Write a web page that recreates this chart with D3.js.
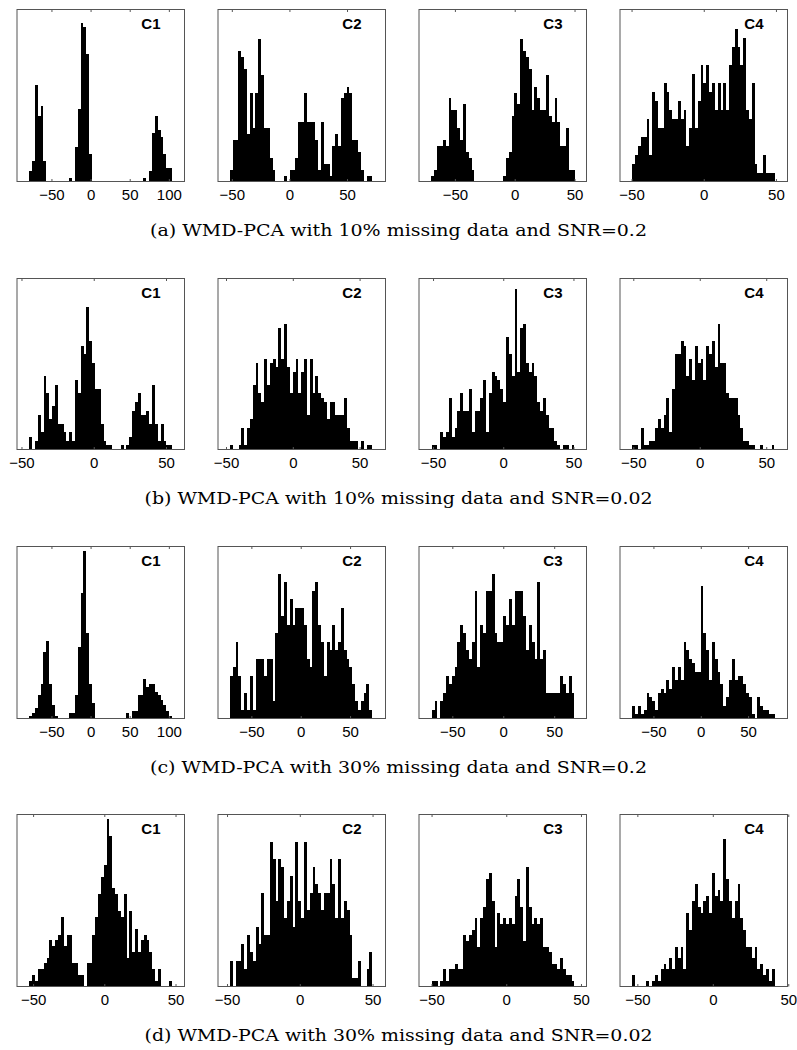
<!DOCTYPE html>
<html><head><meta charset="utf-8">
<script src="https://cdn.jsdelivr.net/npm/d3@7"></script>
<style>body{margin:0;background:#fff}svg{display:block}</style>
</head><body>
<svg id="chart" width="797" height="1050"></svg>
<script>
// ---------------- data ----------------
const panelNames = ["C1", "C2", "C3", "C4"];
const captions = [
  "(a) WMD-PCA with 10% missing data and SNR=0.2",
  "(b) WMD-PCA with 10% missing data and SNR=0.02",
  "(c) WMD-PCA with 30% missing data and SNR=0.2",
  "(d) WMD-PCA with 30% missing data and SNR=0.02"
];

// histogram counts
const countsA1 = [3,6,28,19,22,6,0,0,0,0,0,0,0,0,1,0,10,21,46,45,37,8,0,0,0,0,0,0,0,0,0,0,0,0,0,0,0,0,0,0,1,0,3,14,19,15,13,8,4,4];
const countsA2 = [2,7,7,22,21,19,8,15,9,15,24,18,9,9,4,2,0,0,0,1,0,2,2,4,10,10,15,10,10,10,7,2,10,3,3,1,6,8,6,14,15,16,15,7,7,5,2,0,1,1];
const countsA3 = [1,2,6,6,7,6,14,12,12,9,7,13,5,4,2,0,0,0,0,0,0,0,0,0,0,1,4,5,11,15,13,24,22,21,19,12,16,14,12,12,18,11,10,14,10,6,6,9,2,2];
const countsA4 = [2,3,4,5,5,7,3,10,9,6,6,11,10,8,7,7,9,7,8,4,6,12,6,9,13,11,13,10,11,8,11,8,11,8,13,15,17,15,13,16,8,7,11,2,1,1,3,1,1,1];

const countsB1 = [3,0,2,8,4,17,13,7,10,15,6,6,4,2,4,2,16,13,24,22,33,25,20,14,14,6,2,1,1,0,0,0,1,0,1,3,9,11,13,8,8,9,6,15,6,2,6,2,1,1];
const countsB2 = [1,0,0,1,5,1,5,7,15,20,13,11,21,15,20,21,19,28,21,29,19,13,18,21,13,18,21,8,21,13,17,13,12,11,7,11,11,8,8,8,12,5,2,2,2,0,2,0,1,1];
const countsB3 = [1,1,0,4,3,4,12,3,5,9,13,9,9,14,4,9,9,12,16,4,13,18,17,16,14,11,26,22,17,37,18,28,29,20,18,20,17,11,9,12,8,5,5,2,1,0,1,1,0,1];
const countsB4 = [1,1,0,5,1,1,2,2,5,7,5,8,12,4,14,22,22,25,24,17,21,16,24,20,21,16,24,22,25,19,29,20,20,13,12,12,12,8,5,2,2,1,1,0,0,1,0,0,0,1];

const countsC1 = [1,2,4,9,13,25,29,13,5,1,0,0,0,0,2,2,9,27,47,63,32,13,6,0,0,0,0,0,0,0,0,0,0,0,2,0,3,3,9,9,15,12,13,13,10,9,7,5,3,1];
const countsC2 = [5,6,9,5,1,3,1,5,1,7,7,7,5,7,7,2,10,17,12,16,11,14,11,13,13,13,11,7,6,15,16,11,9,5,9,8,11,8,9,13,8,7,6,4,2,1,2,3,4,1];
const countsC3 = [1,2,0,2,3,5,4,5,6,9,11,10,8,7,9,15,6,11,10,15,15,17,10,9,9,12,11,14,11,15,15,15,12,8,11,9,7,16,7,8,3,3,3,3,3,5,4,3,5,3];
const countsC4 = [3,1,3,1,2,6,5,4,2,6,7,6,9,7,12,9,12,9,18,16,14,13,11,11,31,20,16,9,18,14,11,8,3,5,9,14,9,10,10,8,6,5,1,0,5,3,2,2,1,1];

const countsD1 = [1,2,1,3,3,4,5,8,7,8,9,12,7,9,9,4,4,2,2,0,4,4,9,12,16,19,21,29,26,17,16,13,12,16,5,13,6,10,6,8,9,8,6,3,1,3,0,0,0,1];
const countsD2 = [3,0,3,3,5,2,6,4,3,7,5,11,6,6,17,15,10,15,14,8,10,13,7,17,10,8,17,9,11,14,12,11,9,11,11,15,12,8,15,8,10,9,6,1,1,3,0,0,2,4];
const countsD3 = [1,1,0,1,3,1,3,3,4,3,3,9,8,9,10,12,7,12,14,19,20,15,7,13,11,12,11,12,11,16,19,14,8,21,14,11,12,11,12,7,7,6,4,4,3,5,3,2,2,1];
const countsD4 = [2,0,0,0,0,1,0,1,2,1,3,4,3,5,3,7,5,7,3,13,10,15,18,14,13,15,16,13,20,16,17,15,26,19,15,12,15,18,12,10,7,7,5,7,3,4,2,3,1,3];

const panelCounts = [
  countsA1, countsA2, countsA3, countsA4,
  countsB1, countsB2, countsB3, countsB4,
  countsC1, countsC2, countsC3, countsC4,
  countsD1, countsD2, countsD3, countsD4
];
// data range covered by the bins [min, max]
const binExtents = [
  [-78.5, 104], [-51.7, 71.9], [-69.6, 50], [-49.4, 49],
  [-44.6, 54.3], [-47, 59.6], [-50.9, 50.7], [-50.7, 56.2],
  [-78.5, 104], [-71.7, 72.4], [-70.2, 69.9], [-72.3, 77.9],
  [-52.6, 47.7], [-47.9, 49.8], [-49.8, 45.6], [-53.4, 40.9]
];
// x-axis limits
const xDomains = [
  [-94, 120], [-62, 83.4], [-80, 60], [-58, 58],
  [-53.1, 62.8], [-56, 69.4], [-60, 59.3], [-60, 66],
  [-94, 120], [-83.8, 85.9], [-82.7, 81.7], [-85.3, 91.6],
  [-61.3, 56.3], [-56.2, 58.9], [-58.4, 53.7], [-61.5, 49.5]
];
// y-axis upper limits (counts)
const yMaxes = [
  50, 29, 29, 19.2,
  39.5, 39.5, 39.5, 39.5,
  64.5, 20.2, 20.2, 40.3,
  29.8, 20.2, 30.3, 30.3
];
const ticks3 = [-50, 0, 50];
const ticks4 = [-50, 0, 50, 100];
const tickValues = [
  ticks4, ticks3, ticks3, ticks3,
  ticks3, ticks3, ticks3, ticks3,
  ticks4, ticks3, ticks3, ticks3,
  ticks3, ticks3, ticks3, ticks3
];

// ---------------- layout ----------------
const colLeft = [17, 218, 419, 620];
const panelW = 167.5;
const rowTop = [9.5, 278.5, 546.5, 814.5];
const rowBottom = [181.5, 449.5, 718.5, 986.5];
const boxColor = "#555";
const fmt = d => (d < 0 ? "\u2212" + Math.abs(d) : String(d));

const svg = d3.select("#chart");

panelCounts.forEach((counts, p) => {
  const r = Math.floor(p / 4), c = p % 4;
  const left = colLeft[c], right = left + panelW;
  const top = rowTop[r], bottom = rowBottom[r];
  const x = d3.scaleLinear().domain(xDomains[p]).range([left, right]);
  const y = d3.scaleLinear().domain([0, yMaxes[p]]).range([bottom, top]);
  const [lo, hi] = binExtents[p];
  const bw = (hi - lo) / counts.length;
  const x0 = i => Math.round(x(lo + i * bw));

  const g = svg.append("g");
  g.selectAll("rect.bar").data(counts).join("rect")
    .attr("class", "bar")
    .attr("x", (d, i) => x0(i))
    .attr("width", (d, i) => x0(i + 1) - x0(i))
    .attr("y", d => Math.round(y(d)))
    .attr("height", d => Math.round(y(0)) - Math.round(y(d)))
    .attr("shape-rendering", "crispEdges")
    .attr("fill", "#000");

  // bottom axis (ticks pointing inward)
  const axB = g.append("g").attr("transform", `translate(0,${bottom})`)
    .call(d3.axisBottom(x).tickValues(tickValues[p]).tickFormat(fmt)
      .tickSizeInner(-2.5).tickSizeOuter(0).tickPadding(8));
  axB.select(".domain").remove();
  axB.selectAll("line").attr("stroke", boxColor);
  axB.selectAll("text").attr("font-family", "'Liberation Sans', Arial, sans-serif")
    .attr("font-size", 15).attr("fill", "#000");

  const axT = g.append("g").attr("transform", `translate(0,${top})`)
    .call(d3.axisTop(x).tickValues(tickValues[p]).tickSizeInner(-2.5).tickSizeOuter(0).tickFormat(""));
  axT.select(".domain").remove();
  axT.selectAll("line").attr("stroke", boxColor);

  g.append("rect").attr("x", left).attr("y", top).attr("width", right - left).attr("height", bottom - top)
    .attr("fill", "none").attr("stroke", boxColor).attr("stroke-width", 1);

  g.append("text").attr("x", right - 24).attr("y", top + 19.5)
    .attr("text-anchor", "end").attr("font-family", "'Liberation Sans', Arial, sans-serif")
    .attr("font-weight", "bold").attr("font-size", 15).text(panelNames[c]);
});

captions.forEach((t, r) => {
  svg.append("text").attr("x", 398.5).attr("y", rowBottom[r] + 54)
    .attr("text-anchor", "middle").attr("font-family", "'DejaVu Serif', serif")
    .attr("font-size", 16).attr("textLength", r % 2 === 0 ? 497 : 508).attr("lengthAdjust", "spacingAndGlyphs")
    .attr("fill", "#000").text(t);
});
</script>
</body></html>
